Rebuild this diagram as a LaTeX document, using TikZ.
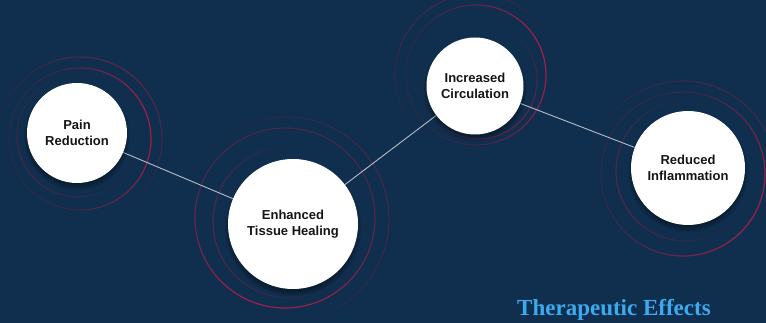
\documentclass[tikz,border=0pt]{standalone}
\usepackage{fontspec}
\newfontfamily\sansbold{Liberation Sans}
\newfontfamily\serifbold{Liberation Serif}
\usetikzlibrary{calc}
\pgfdeclarelayer{bg}\pgfdeclarelayer{mid}
\pgfsetlayers{bg,mid,main}
\definecolor{navy}{HTML}{102E4D}
\definecolor{ringred}{HTML}{B41E48}
\definecolor{linkgray}{HTML}{B4BDC8}
\definecolor{titleblue}{HTML}{3DAAF0}
\definecolor{inkdark}{HTML}{151515}
% x, y, radius, peak visual angle, max opacity, min fraction, width
\newcommand\fadering[7]{%
 \begin{scope}[shift={(#1,#2)}]
 \foreach \a in {0,5,...,355}{
   \pgfmathsetmacro\op{#5*(#6+(1-#6)*((1+cos(\a+2.5-#4))/2)^2)}
   \draw[ringred, line width=#7, opacity=\op, line cap=butt] (-\a:#3) arc[start angle=-\a, end angle=-\a-5, radius=#3];
 }
 \end{scope}}
\newcommand\softshadow[3]{%
 \foreach \k in {0,...,5}{
   \fill[black, opacity=0.07] (#1,{#2+4}) circle[radius={#3+3-\k*1.2}];
 }}
\tikzset{
 bubble/.style={circle, fill=white, inner sep=0pt, align=center, text=inkdark,
   font=\sansbold\bfseries\fontsize{13}{15.5}\selectfont},
 link/.style={draw=linkgray, line width=0.9pt},
 titletext/.style={anchor=base west, text=titleblue, inner sep=0pt,
   font=\serifbold\bfseries\fontsize{23}{27}\selectfont}
}
\begin{document}
\begin{tikzpicture}[x=1pt,y=-1pt]
\useasboundingbox (0,0) rectangle (766,323);
\begin{pgfonlayer}{bg}
 \fill[navy] (0,0) rectangle (766,323);
 % Pain Reduction rings
 \fadering{80}{139}{71}{10}{0.9}{0.15}{1.2pt}
 \fadering{80}{139}{82}{55}{0.45}{0}{1.2pt}
 \fadering{78}{136}{61}{215}{0.3}{0}{1.2pt}
 % Enhanced Tissue Healing rings
 \fadering{285}{218}{90}{260}{0.9}{0.35}{1.2pt}
 \fadering{289}{222}{76}{190}{0.4}{0}{1.2pt}
 \fadering{287}{219}{102}{20}{0.3}{0}{1.2pt}
 % Increased Circulation rings
 \fadering{476}{75}{70}{15}{0.9}{0.15}{1.2pt}
 \fadering{478}{80}{59}{-50}{0.45}{0}{1.2pt}
 \fadering{476}{75}{81}{120}{0.3}{0}{1.2pt}
 % Reduced Inflammation rings
 \fadering{683}{174}{82}{-30}{0.9}{0.2}{1.2pt}
 \fadering{686}{171}{70}{200}{0.4}{0}{1.2pt}
 \fadering{683}{174}{93}{60}{0.3}{0}{1.2pt}
\end{pgfonlayer}

\node[bubble, minimum size=100pt] (pain) at (77,133) {Pain\\Reduction};
\node[bubble, minimum size=130pt] (heal) at (293,224) {Enhanced\\Tissue Healing};
\node[bubble, minimum size=97pt] (circ) at (475,86) {Increased\\Circulation};
\node[bubble, minimum size=114pt] (infl) at (688,168) {Reduced\\Inflammation};

\begin{pgfonlayer}{mid}
 \draw[link] (pain) -- (heal);
 \draw[link] (heal) -- (circ);
 \draw[link] (circ) -- (infl);
 \softshadow{77}{133}{50}
 \softshadow{293}{224}{65}
 \softshadow{475}{86}{48.5}
 \softshadow{688}{168}{57}
\end{pgfonlayer}

\node[titletext] (title) at (517,316) {Therapeutic Effects};
\end{tikzpicture}
\end{document}
